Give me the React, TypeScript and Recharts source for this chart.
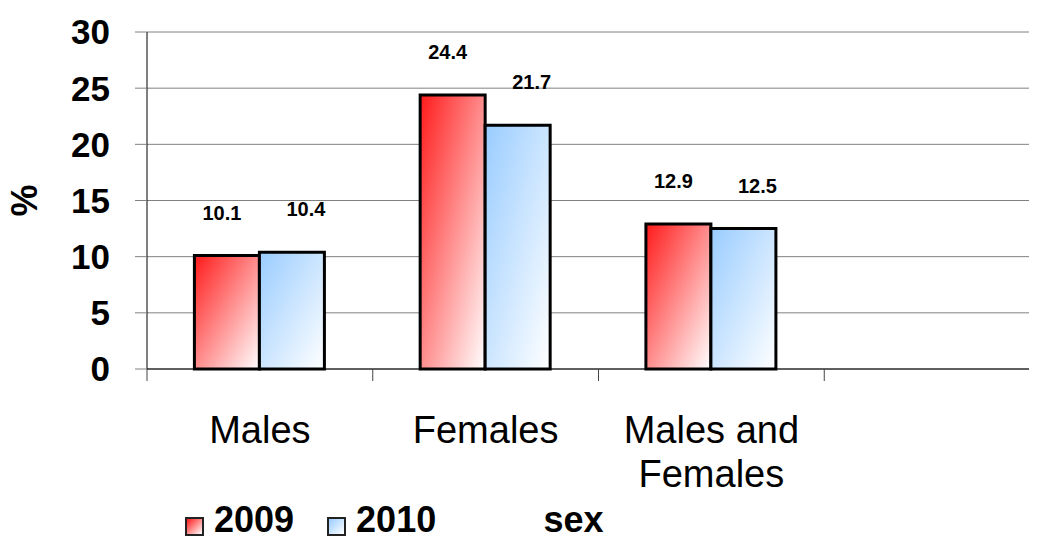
import React from 'react';
import { BarChart, Bar, XAxis, YAxis, CartesianGrid, Legend, LabelList, Label } from 'recharts';

const categories = ['Males', 'Females', 'Males and Females', ''];
const values2009 = [10.1, 24.4, 12.9, null];
const values2010 = [10.4, 21.7, 12.5, null];
const seriesNames = ['2009', '2010'];
const yTicks = [0, 5, 10, 15, 20, 25, 30];
const xAxisTitle = 'sex';
const yAxisTitle = '%';

const data = categories.map((c, i) => ({ category: c, v2009: values2009[i], v2010: values2010[i] }));

const FONT = '"Liberation Sans", Arial, Helvetica, sans-serif';
const X_FONT_SIZE = 38;

let measureCtx: CanvasRenderingContext2D | null = null;
const measure = (s: string) => {
  if (!measureCtx && typeof document !== 'undefined') {
    measureCtx = document.createElement('canvas').getContext('2d');
  }
  if (!measureCtx) return s.length * X_FONT_SIZE * 0.55;
  measureCtx.font = `${X_FONT_SIZE}px ${FONT}`;
  return measureCtx.measureText(s).width;
};

const wrapWords = (text: string, maxWidth: number) => {
  const words = text.split(' ');
  const lines: string[] = [];
  let cur = '';
  words.forEach((w) => {
    const test = cur ? `${cur} ${w}` : w;
    if (cur && measure(test) > maxWidth) {
      lines.push(cur);
      cur = w;
    } else {
      cur = test;
    }
  });
  if (cur) lines.push(cur);
  return lines;
};

const XTick = (props: any) => {
  const { x, y, payload } = props;
  const half = payload && typeof payload.offset === 'number' ? payload.offset : 0;
  const lines = payload.value ? wrapWords(String(payload.value), half * 2 - 10) : [];
  return (
    <g>
      <line x1={x - half} x2={x - half} y1={y - 12} y2={y} stroke="#444" strokeWidth={1} />
      {lines.length ? (
        <text x={x} y={y + 62} textAnchor="middle" fontSize={X_FONT_SIZE} fontFamily={FONT} fill="#000">
          {lines.map((ln, i) => (
            <tspan key={i} x={x} dy={i === 0 ? 0 : 44}>
              {ln}
            </tspan>
          ))}
        </text>
      ) : null}
    </g>
  );
};

const makeBarLabel = (dx: number) => (props: any) => {
  const { x, y, width, value } = props;
  if (value === null || value === undefined) return null;
  return (
    <text
      x={Number(x) + Number(width) / 2 + dx}
      y={Number(y) - 36}
      textAnchor="middle"
      fontSize={20}
      fontWeight="bold"
      fontFamily={FONT}
      fill="#000"
    >
      {value}
    </text>
  );
};

const legendGradients = [
  'linear-gradient(to bottom right, #ff1a1a, #ffffff)',
  'linear-gradient(to bottom right, #99ccff, #ffffff)',
];

const LegendContent = (props: any) => {
  const payload = props.payload || [];
  return (
    <div style={{ height: 40, position: 'relative' }}>
      <div
        style={{
          display: 'flex',
          alignItems: 'center',
          height: 32,
          paddingLeft: 177,
          marginTop: -4,
          fontFamily: FONT,
          fontWeight: 'bold',
          fontSize: 36,
          lineHeight: '32px',
          color: '#000',
        }}
      >
        {payload.map((p: any, i: number) => (
          <div key={i} style={{ display: 'flex', alignItems: 'center', height: 32, marginLeft: i === 0 ? 0 : 33 }}>
            <span
              style={{
                display: 'inline-block',
                width: 15,
                height: 15,
                border: '2px solid #222',
                background: legendGradients[i],
                marginRight: 10,
                position: 'relative',
                top: 6,
              }}
            />
            <span style={{ lineHeight: '32px' }}>{p.value}</span>
          </div>
        ))}
      </div>
    </div>
  );
};

const YTitle = (props: any) => {
  const vb = props.viewBox || { x: 0, y: 0, width: 0, height: 0 };
  const cx = vb.x + 17;
  const cy = vb.y + vb.height / 2;
  return (
    <g transform={`translate(${cx} ${cy})`}>
      <text
        x={0}
        y={12}
        transform="rotate(-90)"
        textAnchor="middle"
        fontSize={36}
        fontWeight="bold"
        fontFamily={FONT}
        fill="#000"
      >
        {yAxisTitle}
      </text>
    </g>
  );
};

const XTitle = (props: any) => {
  const vb = props.viewBox || { x: 0, y: 0, width: 0, height: 0 };
  return (
    <text
      x={vb.x + vb.width / 2 - 25}
      y={vb.y + vb.height + 24}
      textAnchor="middle"
      fontSize={36}
      fontWeight="bold"
      fontFamily={FONT}
      fill="#000"
    >
      {xAxisTitle}
    </text>
  );
};

export default function App() {
  return (
    <div style={{ width: 1029, height: 532, overflow: 'hidden', background: '#fff' }}>
      <BarChart
        width={1042}
        height={540}
        data={data}
        margin={{ top: 24, right: 0, bottom: 0, left: 0 }}
        barCategoryGap="21%"
        barGap={0}
      >
        <defs>
          <linearGradient id="g2009" x1="0" y1="0" x2="1" y2="1">
            <stop offset="0%" stopColor="#ff1a1a" />
            <stop offset="100%" stopColor="#ffffff" />
          </linearGradient>
          <linearGradient id="g2010" x1="0" y1="0" x2="1" y2="1">
            <stop offset="0%" stopColor="#99ccff" />
            <stop offset="100%" stopColor="#ffffff" />
          </linearGradient>
        </defs>
        <CartesianGrid vertical={false} stroke="#808080" strokeWidth={1} />
        <XAxis
          dataKey="category"
          height={139}
          interval={0}
          tickSize={12}
          tickMargin={0}
          tickLine={false}
          axisLine={{ stroke: '#000', strokeWidth: 1 }}
          tick={<XTick />}
        >
          <Label content={<XTitle />} />
        </XAxis>
        <YAxis
          width={139}
          domain={[0, 30]}
          ticks={yTicks}
          interval={0}
          tickSize={12}
          tickMargin={25}
          tickLine={{ stroke: '#808080' }}
          axisLine={{ stroke: '#000', strokeWidth: 1 }}
          tick={{ fontSize: 35, fontWeight: 'bold', fill: '#000', fontFamily: FONT }}
        >
          <Label content={<YTitle />} />
        </YAxis>
        <Legend
          verticalAlign="bottom"
          align="left"
          wrapperStyle={{ left: 0, bottom: 0, width: 1042, height: 40 }}
          content={<LegendContent />}
        />
        <Bar dataKey="v2009" name={seriesNames[0]} fill="url(#g2009)" stroke="#000" strokeWidth={3} isAnimationActive={false}>
          <LabelList dataKey="v2009" content={makeBarLabel(-5)} />
        </Bar>
        <Bar dataKey="v2010" name={seriesNames[1]} fill="url(#g2010)" stroke="#000" strokeWidth={3} isAnimationActive={false}>
          <LabelList dataKey="v2010" content={makeBarLabel(14)} />
        </Bar>
      </BarChart>
    </div>
  );
}
